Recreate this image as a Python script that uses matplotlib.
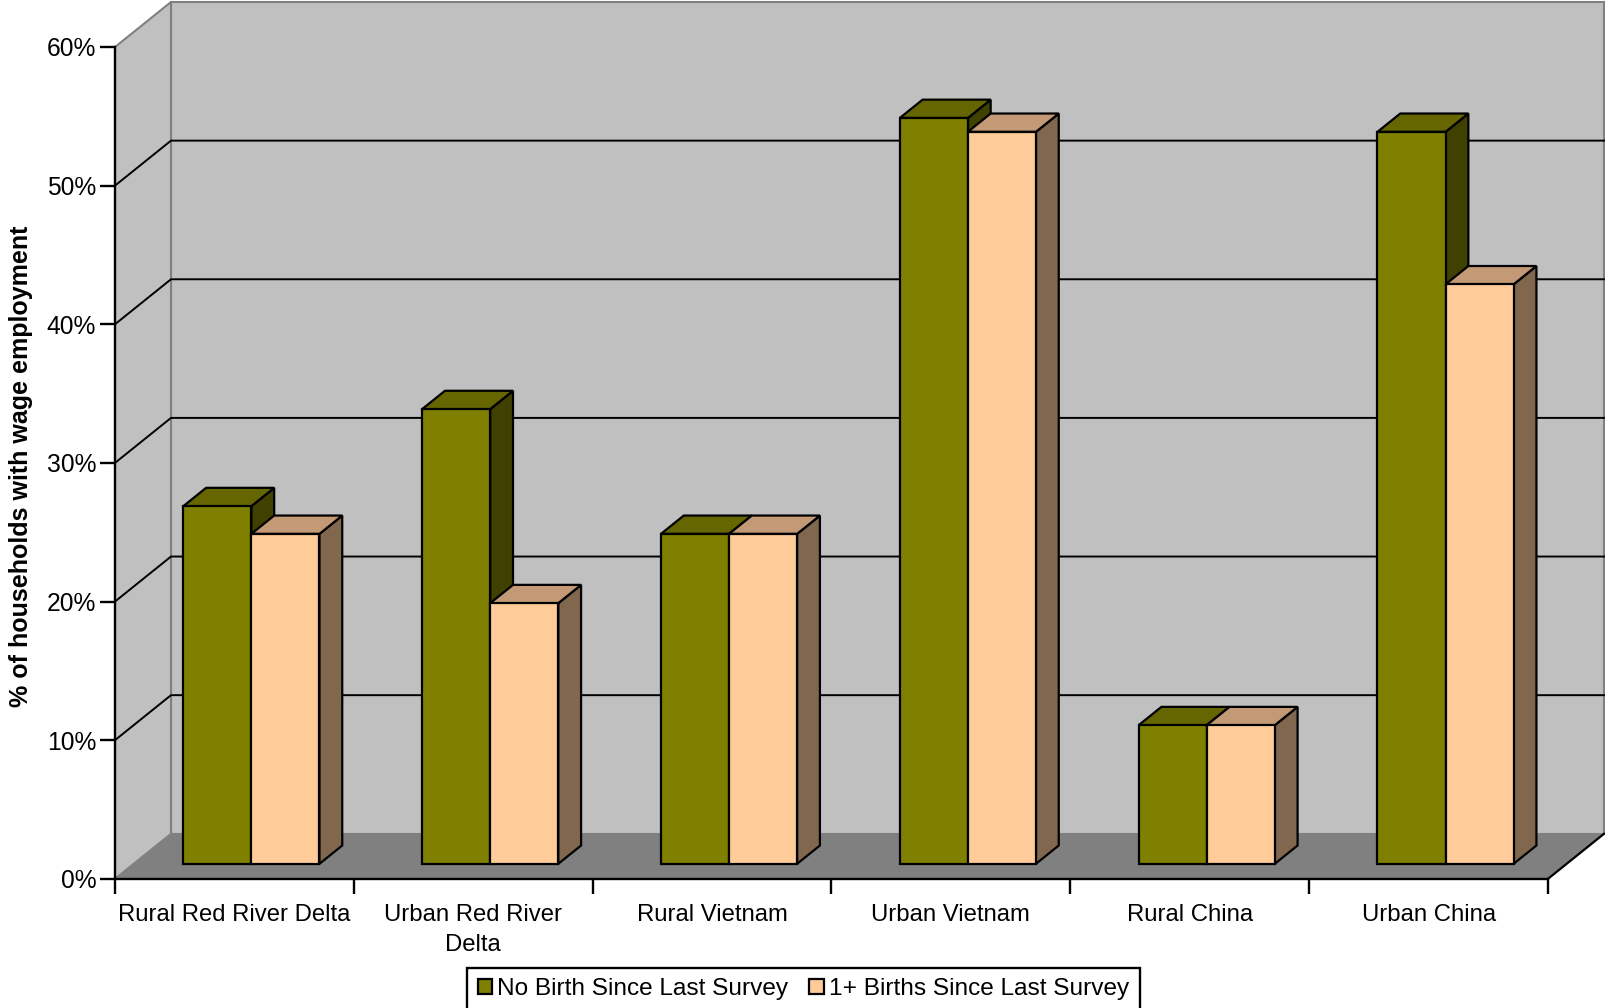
import numpy as np
import matplotlib
matplotlib.use('Agg')
import matplotlib.pyplot as plt
from matplotlib.patches import Patch

plt.rcParams['font.family'] = ['Liberation Sans', 'DejaVu Sans']

categories = ['Rural Red River Delta', 'Urban Red River\nDelta', 'Rural Vietnam',
              'Urban Vietnam', 'Rural China', 'Urban China']
no_birth = [25.8, 32.8, 23.8, 53.8, 10, 52.8]
births = [23.8, 18.8, 23.8, 52.8, 10, 41.8]
series_names = ['No Birth Since Last Survey', '1+ Births Since Last Survey']
y_ticks = [0, 10, 20, 30, 40, 50, 60]
y_labels = ['0%', '10%', '20%', '30%', '40%', '50%', '60%']

W, H = 1606, 1008
X0, X1, Y0, Y60 = 115.0, 1548.0, 878.8, 47.0

# oblique depth of the floor, in data units
DX = 56.0 / ((X1 - X0) / 6)
DY = 45.0 / ((Y0 - Y60) / 60)

BAR_W = 0.285
BAR_OFF = 0.208
D_FRONT = 0.333
D_BACK = 0.74


def proj(x, y, d):
    return x + d * DX, y + d * DY


def poly(ax, pts, **kw):
    xs, ys = zip(*pts)
    ax.fill(xs, ys, clip_on=False, **kw)


def bar3d(ax, left, val, front, top, side):
    # left is the position on the floor, shifted back to where the bar stands
    left = left + D_FRONT * DX
    right = left + BAR_W
    b0 = D_FRONT * DY
    y = val + b0
    dd = D_BACK - D_FRONT
    poly(ax, [proj(right, b0, 0), proj(right, b0, dd), proj(right, y, dd), proj(right, y, 0)],
         fc=side, ec='black', lw=1.6, zorder=4)
    poly(ax, [proj(left, y, 0), proj(right, y, 0), proj(right, y, dd), proj(left, y, dd)],
         fc=top, ec='black', lw=1.6, zorder=4)
    ax.bar(left, val, BAR_W, bottom=b0, align='edge', color=front, edgecolor='black',
           linewidth=1.6, clip_on=False, zorder=4)


fig = plt.figure(figsize=(W / 100, H / 100), dpi=100)
ax = fig.add_axes([X0 / W, 1 - Y0 / H, (X1 - X0) / W, (Y0 - Y60) / H])
ax.set_xlim(0, 6)
ax.set_ylim(0, 60)
ax.patch.set_visible(False)

# walls and floor
poly(ax, [proj(0, 0, 1), proj(6, 0, 1), proj(6, 60, 1), proj(0, 60, 1)], fc='#C0C0C0', ec='#808080', lw=1.5, zorder=1)
poly(ax, [(0, 0), (6, 0), proj(6, 0, 1), proj(0, 0, 1)], fc='#808080', ec='none', zorder=1)
poly(ax, [(0, 0), proj(0, 0, 1), proj(0, 60, 1), (0, 60)], fc='#C0C0C0', ec='#808080', lw=1.5, zorder=1)
ax.plot(*zip((6, 0), proj(6, 0, 1)), color='black', lw=1.6, clip_on=False, zorder=2)

for v in y_ticks[1:-1]:
    ax.plot(*zip((0, v), proj(0, v, 1), proj(6, v, 1)), color='black', lw=1.4, clip_on=False, zorder=2)

for i in range(len(categories)):
    bar3d(ax, i + BAR_OFF, no_birth[i], '#808000', '#666600', '#404000')
    bar3d(ax, i + BAR_OFF + BAR_W, births[i], '#FFCC99', '#C49A76', '#80674D')

for s in ['top', 'right']:
    ax.spines[s].set_visible(False)
for s in ['left', 'bottom']:
    ax.spines[s].set_linewidth(1.7)
    ax.spines[s].set_zorder(5)

ax.set_yticks(y_ticks, y_labels)
ax.set_xticks(range(7), [''] * 7)
ax.set_xticks(np.arange(6) + 0.5, categories, minor=True)
ax.tick_params(axis='y', length=11, width=1.7, labelsize=17.7, pad=2.5)
ax.tick_params(axis='x', which='major', length=11, width=1.7)
ax.tick_params(axis='x', which='minor', length=0, labelsize=17.2, pad=18.5)
for lab in ax.get_xticklabels(minor=True):
    lab.set_linespacing(1.45)
ax.set_axisbelow(False)

fig.text(21.5 / W, 1 - 466 / H, '% of households with wage employment', rotation=90,
         ha='center', va='center', fontsize=18, fontweight='bold')

handles = [Patch(fc='#808000', ec='black', lw=1.6), Patch(fc='#FFCC99', ec='black', lw=1.6)]
fig.legend(handles, series_names, loc='center', bbox_to_anchor=(803.5 / W, 1 - 989 / H), ncol=2,
           fontsize=17.6, fancybox=False, framealpha=1, edgecolor='black',
           handlelength=0.585, handleheight=0.6, handletextpad=0.22, columnspacing=0.85,
           borderpad=0.42, borderaxespad=0).get_frame().set_linewidth(1.7)

fig.savefig('out.png', dpi=100)
